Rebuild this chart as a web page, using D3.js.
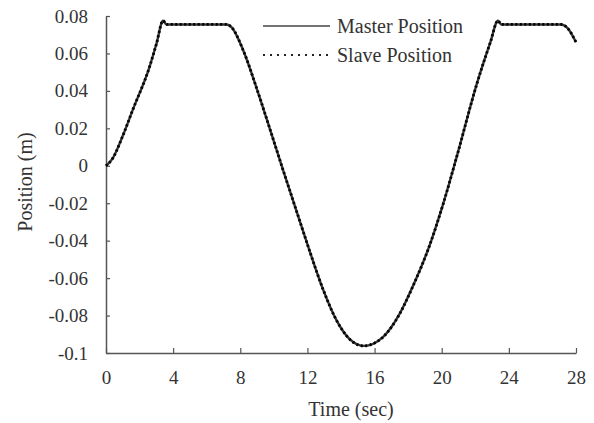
<!DOCTYPE html>
<html>
<head>
<meta charset="utf-8">
<script src="https://cdn.jsdelivr.net/npm/d3@7"></script>
<style>
  body { margin: 0; background: #fff; }
  svg text { font-family: "Liberation Serif", "Times New Roman", serif; fill: #333; }
</style>
</head>
<body>
<div id="chart"></div>
<script>
var width = 594, height = 423;
var margin = { top: 16, right: 18, bottom: 70, left: 106 };

// time (sec) and position (m)
var timeValues = [0, 0.4, 1.0, 1.6, 2.6, 3.0, 3.4, 3.6, 7.2, 7.5, 8.16, 8.99, 9.77, 10.54, 11.38, 12.15, 12.93, 13.76, 14.5, 15.35, 16.5, 17.5, 18.3, 19.3, 20.1, 20.9, 22.1, 22.9, 23.35, 23.55, 27.1, 27.5, 28];
var masterPos  = [0, 0.004, 0.016, 0.030, 0.053, 0.065, 0.0775, 0.0755, 0.0755, 0.0738, 0.062, 0.041, 0.0195, -0.002, -0.025, -0.046, -0.066, -0.083, -0.0925, -0.0962, -0.0915, -0.079, -0.064, -0.042, -0.020, 0.005, 0.044, 0.066, 0.0775, 0.0755, 0.0755, 0.0735, 0.066];
var slavePos   = [0, 0.004, 0.016, 0.030, 0.053, 0.065, 0.0775, 0.0755, 0.0755, 0.0738, 0.062, 0.041, 0.0195, -0.002, -0.025, -0.046, -0.066, -0.083, -0.0925, -0.0962, -0.0915, -0.079, -0.064, -0.042, -0.020, 0.005, 0.044, 0.066, 0.0775, 0.0755, 0.0755, 0.0735, 0.066];

var xTicks = [0, 4, 8, 12, 16, 20, 24, 28];
var yTicks = [0.08, 0.06, 0.04, 0.02, 0, -0.02, -0.04, -0.06, -0.08, -0.1];
var legendLabels = ["Master Position", "Slave Position"];

var x = d3.scaleLinear().domain([0, 28]).range([margin.left, width - margin.right]);
var y = d3.scaleLinear().domain([-0.1, 0.08]).range([height - margin.bottom, margin.top]);

var svg = d3.select("#chart")
    .append("svg")
    .attr("width", width)
    .attr("height", height);

var xAxis = d3.axisBottom(x)
    .tickValues(xTicks)
    .tickSizeInner(-5)
    .tickSizeOuter(0)
    .tickPadding(18)
    .tickFormat(function(d) { return String(d); });

var yAxis = d3.axisLeft(y)
    .tickValues(yTicks)
    .tickSizeInner(-4)
    .tickSizeOuter(0)
    .tickPadding(18)
    .tickFormat(function(d) { return d === 0 ? "0" : String(+d.toFixed(2)); });

var gx = svg.append("g")
    .attr("transform", "translate(0," + (height - margin.bottom) + ")")
    .call(xAxis);

var gy = svg.append("g")
    .attr("transform", "translate(" + margin.left + ",0)")
    .call(yAxis);

[gx, gy].forEach(function(g) {
    g.attr("font-family", "Liberation Serif").attr("font-size", 19);
    g.select(".domain").attr("stroke", "#555").attr("stroke-width", 1.5);
    g.selectAll(".tick line").attr("stroke", "#555").attr("stroke-width", 1.2);
    g.selectAll(".tick text").attr("fill", "#333");
});

svg.append("text")
    .attr("x", 351)
    .attr("y", 416)
    .attr("text-anchor", "middle")
    .style("font-size", "20px")
    .text("Time (sec)");

svg.append("text")
    .attr("transform", "translate(32,182) rotate(-90)")
    .attr("text-anchor", "middle")
    .style("font-size", "20px")
    .text("Position (m)");

var line = d3.line()
    .x(function(d) { return x(d[0]); })
    .y(function(d) { return y(d[1]); })
    .curve(d3.curveMonotoneX);

svg.append("path")
    .datum(d3.zip(timeValues, masterPos))
    .attr("d", line)
    .attr("fill", "none")
    .attr("stroke", "#333")
    .attr("stroke-width", 2.4);

svg.append("path")
    .datum(d3.zip(timeValues, slavePos))
    .attr("d", line)
    .attr("fill", "none")
    .attr("stroke", "#000")
    .attr("stroke-width", 2.8)
    .attr("stroke-dasharray", "2,2.5");

// legend
var legend = svg.append("g");
var legendY = [26, 55];

legend.append("line")
    .attr("x1", 263).attr("x2", 330)
    .attr("y1", legendY[0]).attr("y2", legendY[0])
    .attr("stroke", "#444")
    .attr("stroke-width", 1.5);

legend.append("line")
    .attr("x1", 263).attr("x2", 328)
    .attr("y1", legendY[1]).attr("y2", legendY[1])
    .attr("stroke", "#222")
    .attr("stroke-width", 2.2)
    .attr("stroke-dasharray", "2,5");

legend.selectAll("text.lab")
    .data(legendLabels)
    .enter().append("text")
    .attr("class", "lab")
    .attr("x", 337)
    .attr("y", function(d, i) { return legendY[i] + 7; })
    .style("font-size", "20px")
    .text(function(d) { return d; });
</script>
</body>
</html>
